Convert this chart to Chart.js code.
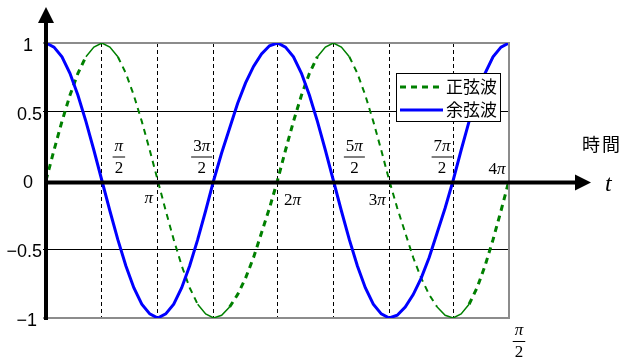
<!DOCTYPE html>
<html>
<head>
<meta charset="utf-8">
<script src="https://cdn.jsdelivr.net/npm/chart.js@4.4.1/dist/chart.umd.min.js"></script>
<style>
body{margin:0;background:#fff;}
</style>
</head>
<body>
<canvas id="grafica" width="629" height="358"></canvas>
<script>
// numero de muestra (0 = t 0, 58 = t 4pi)
var muestras = [0,1,2,3,4,5,6,7,8,9,10,11,12,13,14,15,16,17,18,19,20,21,22,23,24,25,26,27,28,29,
    30,31,32,33,34,35,36,37,38,39,40,41,42,43,44,45,46,47,48,49,50,51,52,53,54,55,56,57,58];

var seno = [0,.22,.43,.62,.78,.90,.97,1,
    .97,.90,.78,.62,.43,.22,0,
    -.22,-.43,-.62,-.78,-.90,-.97,-1,
    -.98,-.92,-.83,-.71,-.56,-.38,-.20,0,
    .22,.43,.62,.78,.90,.97,1,
    .97,.90,.78,.62,.43,.22,0,
    -.20,-.38,-.56,-.71,-.83,-.92,-.98,-1,
    -.97,-.90,-.78,-.62,-.43,-.22,0];

var coseno = [1,.97,.90,.78,.62,.43,.22,0,
    -.22,-.43,-.62,-.78,-.90,-.97,-1,
    -.97,-.90,-.78,-.62,-.43,-.22,0,
    .20,.38,.56,.71,.83,.92,.98,1,
    .97,.90,.78,.62,.43,.22,0,
    -.22,-.43,-.62,-.78,-.90,-.97,-1,
    -.98,-.92,-.83,-.71,-.56,-.38,-.20,0,
    .22,.43,.62,.78,.90,.97,1];

var series = ["正弦波","余弦波"];

// muestra donde cae cada multiplo de pi/2
var marcas = [7,14,21,29,36,43,51,58];
var marcasTexto = ["π/2","π","3π/2","2π","5π/2","3π","7π/2","4π"];

var yTicks = [-1,-0.5,0,0.5,1];
var yTexto = ["−1\u2008","−0.5","0\u2002","0.5","1\u2002"];

var ejeX = "時間";
var ejeT = "t";

function textoPi(c, s, cx, cy){
    var num = s.split("π")[0];
    c.font = '17px "Liberation Serif"';
    var w1 = c.measureText(num).width;
    c.font = 'italic 17px "Liberation Serif"';
    var w2 = c.measureText("π").width;
    var x = cx - (w1 + w2) / 2;
    c.textAlign = "left";
    c.textBaseline = "middle";
    c.font = '17px "Liberation Serif"';
    c.fillText(num, x, cy);
    c.font = 'italic 17px "Liberation Serif"';
    c.fillText("π", x + w1, cy);
    return w1 + w2;
}

function fraccion(c, s, cx, cy){
    var partes = s.split("/");
    var w = textoPi(c, partes[0], cx, cy - 10);
    c.font = '17px "Liberation Serif"';
    c.textAlign = "center";
    c.fillText(partes[1], cx, cy + 12);
    c.lineWidth = 1;
    c.strokeStyle = "#000";
    c.beginPath();
    c.moveTo(cx - w / 2 - 2, cy + 0.5);
    c.lineTo(cx + w / 2 + 2, cy + 0.5);
    c.stroke();
}

var dibujos = {
    id: "dibujos",
    afterDatasetsDraw: function(chart){
        var c = chart.ctx;
        var a = chart.chartArea;
        var ex = chart.scales.x;
        var ey = chart.scales.y;
        var x0 = ex.getPixelForValue(0);
        var y0 = ey.getPixelForValue(0) + 2;
        c.save();

        c.strokeStyle = "#8c8c8c";
        c.lineWidth = 2;
        c.beginPath();
        c.moveTo(a.right, a.top - 1);
        c.lineTo(a.right, a.bottom + 1);
        c.stroke();

        // ejes con flecha
        c.strokeStyle = "#000";
        c.fillStyle = "#000";
        c.lineWidth = 4;
        c.beginPath();
        c.moveTo(x0, y0);
        c.lineTo(576, y0);
        c.stroke();
        c.beginPath();
        c.moveTo(575, y0 - 8);
        c.lineTo(591, y0);
        c.lineTo(575, y0 + 8);
        c.closePath();
        c.fill();

        c.beginPath();
        c.moveTo(x0, a.bottom + 2);
        c.lineTo(x0, 22);
        c.stroke();
        c.beginPath();
        c.moveTo(x0 - 8, 23);
        c.lineTo(x0, 7);
        c.lineTo(x0 + 8, 23);
        c.closePath();
        c.fill();

        // etiquetas de pi
        var colocacion = [[17,-26],[-9,16],[-12,-26],[15,18],[21,-26],[-12,18],[-11,-26],[-12,-13]];
        for (var i = 0; i < marcas.length; i++) {
            var px = ex.getPixelForValue(marcas[i]) + colocacion[i][0];
            var py = y0 + colocacion[i][1];
            c.fillStyle = "#000";
            if (marcasTexto[i].indexOf("/") >= 0) {
                fraccion(c, marcasTexto[i], px, py);
            } else {
                textoPi(c, marcasTexto[i], px, py);
            }
        }
        fraccion(c, marcasTexto[0], a.right + 10, a.bottom + 23);

        c.fillStyle = "#000";
        c.font = '18px "Noto Sans CJK JP"';
        c.letterSpacing = "2px";
        c.textAlign = "left";
        c.textBaseline = "middle";
        c.fillText(ejeX, 582, 144);
        c.letterSpacing = "0px";
        c.font = 'italic 24px "Liberation Serif"';
        c.textBaseline = "alphabetic";
        c.fillText(ejeT, 605, 191);

        // leyenda
        var lx = 396, ly = 73, lw = 104, lh = 48;
        c.fillStyle = "#fff";
        c.fillRect(lx, ly, lw, lh);
        c.strokeStyle = "#000";
        c.lineWidth = 1;
        c.strokeRect(lx + 0.5, ly + 0.5, lw, lh);
        chart.data.datasets.forEach(function(d, k){
            var yy = ly + 14 + k * 23;
            c.strokeStyle = d.borderColor;
            c.lineWidth = 3;
            c.setLineDash(d.borderDash || []);
            c.beginPath();
            c.moveTo(lx + 4, yy);
            c.lineTo(lx + 47, yy);
            c.stroke();
            c.setLineDash([]);
            c.fillStyle = "#000";
            c.font = '17px "Noto Sans CJK JP"';
            c.textAlign = "left";
            c.textBaseline = "middle";
            c.fillText(d.label, lx + 50, yy);
        });
        c.restore();
    }
};

function cresta(s){
    return Math.abs(s.p0.parsed.y) >= 0.9 && Math.abs(s.p1.parsed.y) >= 0.9;
}

var ctx = document.getElementById("grafica").getContext("2d");
var chart = new Chart(ctx, {
    type: "line",
    data: {
        labels: muestras,
        datasets: [
            {
                label: series[0],
                data: seno,
                borderColor: "#008000",
                borderWidth: 3,
                borderDash: [6,5],
                pointRadius: 0,
                tension: 0,
                order: 1,
                segment: {
                    borderWidth: function(s){
                        if (cresta(s)) return 1.5;
                        return s.p1.parsed.y < s.p0.parsed.y ? 2 : 3;
                    },
                    borderDash: function(s){ return cresta(s) ? [] : undefined; }
                }
            },
            {
                label: series[1],
                data: coseno,
                borderColor: "#0000ff",
                borderWidth: 3,
                pointRadius: 0,
                tension: 0,
                order: 0
            }
        ]
    },
    options: {
        responsive: false,
        animation: false,
        devicePixelRatio: 1,
        layout: { padding: { left: 0, top: 43, right: 120, bottom: 40 } },
        plugins: { legend: { display: false }, tooltip: { enabled: false } },
        scales: {
            x: {
                type: "category",
                afterBuildTicks: function(s){
                    s.ticks = marcas.slice(0, marcas.length - 1).map(function(v){ return { value: v }; });
                },
                afterFit: function(s){ s.height = 0; },
                ticks: { display: false },
                grid: { color: "#000", lineWidth: 1, drawTicks: false },
                border: { display: false, dash: [4,3] }
            },
            y: {
                min: -1,
                max: 1,
                afterBuildTicks: function(s){
                    s.ticks = yTicks.map(function(v){ return { value: v }; });
                },
                afterFit: function(s){ s.width = 46; },
                ticks: {
                    color: "#000",
                    padding: 1,
                    labelOffset: 3,
                    font: { family: "Liberation Sans", size: 18 },
                    callback: function(v){ return yTexto[yTicks.indexOf(v)]; }
                },
                grid: {
                    tickLength: 3,
                    color: function(g){
                        var v = g.tick ? g.tick.value : null;
                        if (v === 0) return "rgba(0,0,0,0)";
                        if (v === 1 || v === -1) return "#8c8c8c";
                        return "#000";
                    },
                    lineWidth: function(g){
                        var v = g.tick ? g.tick.value : null;
                        return (v === 1 || v === -1) ? 2 : 1;
                    }
                },
                border: { display: false }
            }
        }
    },
    plugins: [dibujos]
});
</script>
</body>
</html>
